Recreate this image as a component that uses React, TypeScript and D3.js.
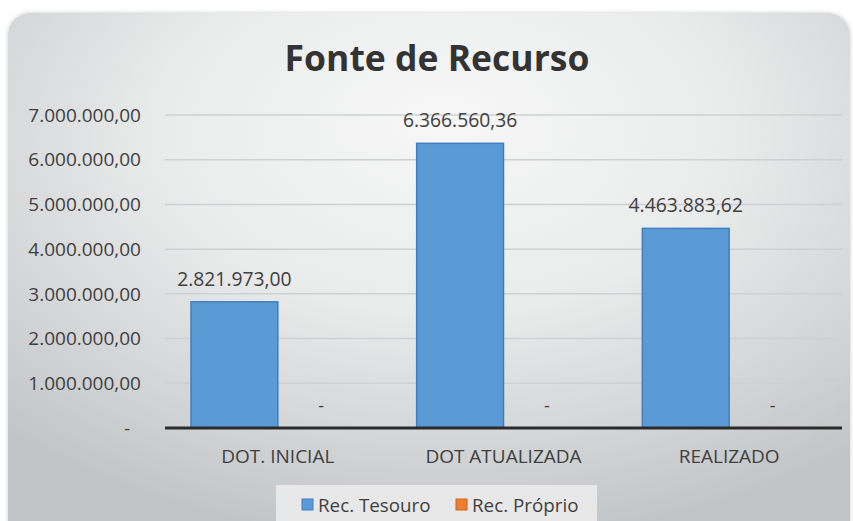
import React from "react";
import * as d3 from "d3";

const categories = ["DOT. INICIAL", "DOT ATUALIZADA", "REALIZADO"];
const seriesNames = ["Rec. Tesouro", "Rec. Próprio"];
const tesouro = [2821973.0, 6366560.36, 4463883.62];
const proprio = [0, 0, 0];
const yTicks = [0, 1000000, 2000000, 3000000, 4000000, 5000000, 6000000, 7000000];
const colors = ["#5B9BD5", "#ED7D31"];
const borders = ["#3F7FC0", "#C9651F"];

const W = 853;
const H = 521;
const FONT = "'Open Sans', sans-serif";

function fmt(v: number): string {
  if (v === 0) return "-";
  const parts = v.toFixed(2).split(".");
  const int = parts[0].replace(/\B(?=(\d{3})+(?!\d))/g, ".");
  return int + "," + parts[1];
}

export default function App() {
  const left = 165;
  const right = 842;
  const top = 115;
  const bottom = 428;
  const x0 = d3.scaleBand<string>().domain(categories).range([left, right]).paddingInner(0).paddingOuter(0);
  const y = d3.scaleLinear().domain([0, 7000000]).range([bottom, top]);
  const series = [tesouro, proprio];
  const groupPad = 26;
  const x1 = d3
    .scaleBand<number>()
    .domain([0, 1])
    .range([groupPad, x0.bandwidth() - groupPad])
    .padding(0);

  return (
    <svg
      width={W}
      height={H}
      style={{ position: "absolute", left: 0, top: 0, display: "block" }}
      fontFamily={FONT}
    >
      <defs>
        <radialGradient id="bg" cx="0.52" cy="0.25" r="0.75" fx="0.52" fy="0.2">
          <stop offset="0" stopColor="#f7f7f7" />
          <stop offset="0.45" stopColor="#eaebeb" />
          <stop offset="1" stopColor="#c2c5c7" />
        </radialGradient>
        <filter id="sh" x="-5%" y="-5%" width="110%" height="110%">
          <feGaussianBlur in="SourceAlpha" stdDeviation="2" />
          <feComponentTransfer>
            <feFuncA type="linear" slope="0.2" />
          </feComponentTransfer>
          <feMerge>
            <feMergeNode />
            <feMergeNode in="SourceGraphic" />
          </feMerge>
        </filter>
      </defs>
      <rect x={0} y={0} width={W} height={H} fill="#ffffff" />
      <rect x={8} y={13} width={842} height={530} rx={22} ry={22} fill="url(#bg)" filter="url(#sh)" />

      <text x={437} y={71} textAnchor="middle" fontSize={35.5} fontWeight="bold" fill="#333333">
        Fonte de Recurso
      </text>

      {yTicks.map((t) => (
        <g key={t}>
          {t > 0 && (
            <line x1={left} x2={right} y1={y(t)} y2={y(t)} stroke="#cfd0d1" strokeWidth={1.5} />
          )}
          <text
            x={t === 0 ? 130 : 141}
            y={y(t)}
            dy="0.35em"
            textAnchor="end"
            fontSize={19}
            fill="#404040"
          >
            {fmt(t)}
          </text>
        </g>
      ))}

      {categories.map((c, ci) => (
        <g key={c}>
          {series.map((s, si) => {
            const v = s[ci];
            const bx = (x0(c) as number) + (x1(si) as number);
            const bw = x1.bandwidth();
            return (
              <g key={si}>
                {v > 0 && (
                  <rect
                    x={bx}
                    y={y(v)}
                    width={bw}
                    height={y(0) - y(v)}
                    fill={colors[si]}
                    stroke={borders[si]}
                    strokeWidth={1.5}
                  />
                )}
                <text
                  x={bx + bw / 2}
                  y={y(v) - 16}
                  textAnchor="middle"
                  fontSize={v > 0 ? 19.3 : 18}
                  fill="#404040"
                >
                  {fmt(v)}
                </text>
              </g>
            );
          })}
          <text
            x={(x0(c) as number) + x0.bandwidth() / 2}
            y={463}
            textAnchor="middle"
            fontSize={19}
            fill="#404040"
          >
            {c}
          </text>
        </g>
      ))}

      <line x1={left} x2={right} y1={bottom} y2={bottom} stroke="#2b2b2b" strokeWidth={3} />

      <rect x={276} y={485} width={321} height={40} fill="#e8e8e8" />
      {seriesNames.map((n, i) => {
        const lx = [302, 456][i];
        return (
          <g key={n}>
            <rect x={lx} y={499} width={11} height={11} fill={colors[i]} stroke={borders[i]} strokeWidth={1} />
            <text x={lx + 16} y={511.5} fontSize={18.8} fill="#404040">
              {n}
            </text>
          </g>
        );
      })}
    </svg>
  );
}
